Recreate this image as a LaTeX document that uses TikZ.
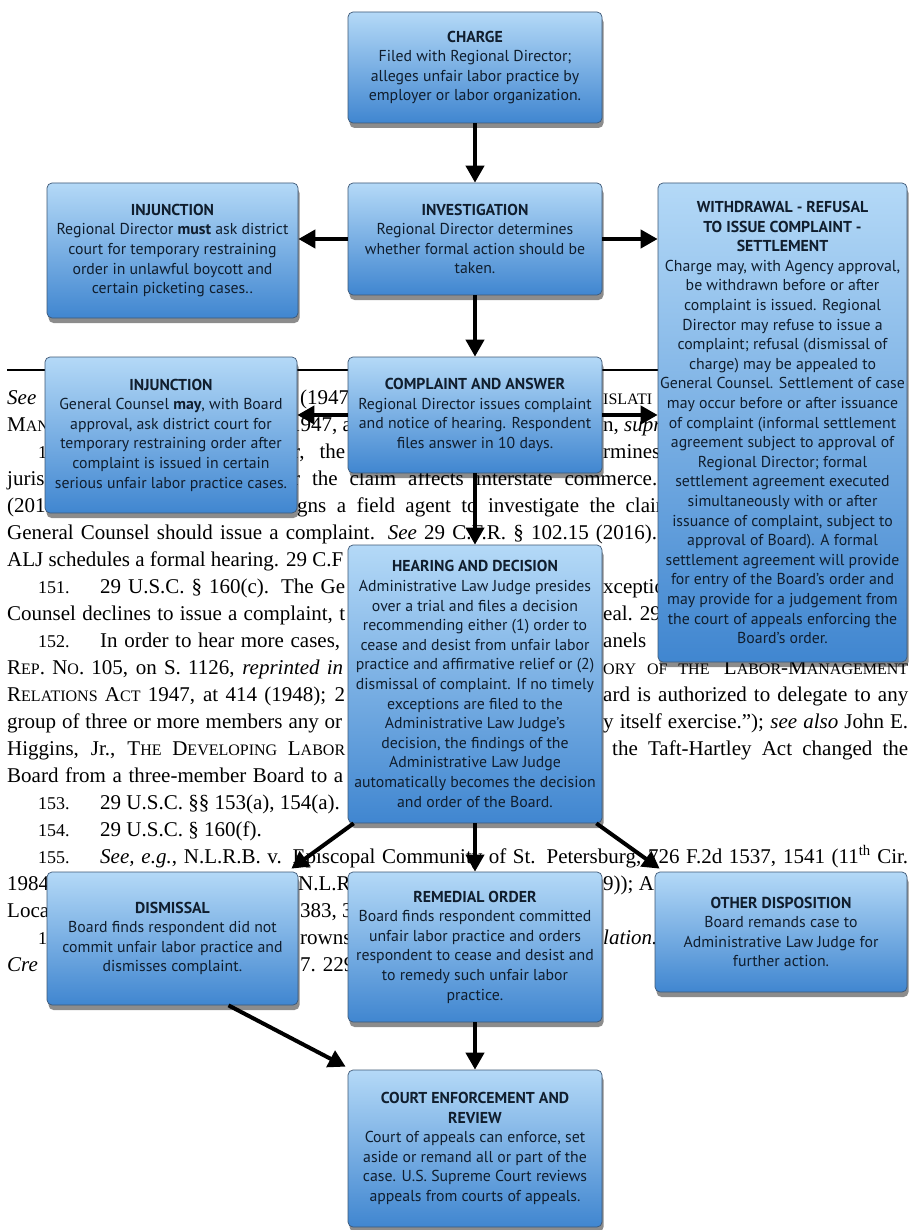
\documentclass[tikz,border=0pt]{standalone}
\usepackage{fontspec}
\setmainfont{Liberation Serif}
\newfontfamily\boxsans{PT Sans}
\usetikzlibrary{arrows.meta,shadows}
\definecolor{boxtop}{RGB}{180,217,247}
\definecolor{boxbot}{RGB}{64,134,208}
\definecolor{boxline}{RGB}{62,88,118}
\definecolor{boxtext}{RGB}{16,30,46}
\newcommand\fakesc[1]{{\fontsize{16}{18}\selectfont #1}}
\newcommand\fnnum[1]{{\fontsize{18}{20}\selectfont #1}}
\begin{document}
\begin{tikzpicture}[x=1pt,y=-1pt,
  flowbox/.style={draw=boxline, line width=0.7pt, rounded corners=5pt,
    top color=boxtop, bottom color=boxbot,
    drop shadow={shadow xshift=1.5pt,shadow yshift=-5pt,opacity=0.45,fill=black},
    align=center, inner sep=1pt, text=boxtext,
    font=\boxsans\fontsize{15.8}{19.6}\selectfont},
  bgtext/.style={anchor=base west, inner sep=0pt, font=\fontsize{21}{25}\selectfont},
  arr/.style={line width=4pt, -{Triangle[length=17pt,width=18pt]}, black}]
\fill[white] (0,0) rectangle (910,1230);
\useasboundingbox (0,0) rectangle (910,1230);

% background page text
\node[bgtext] (l1a) at (7,404) {\textit{See}};
\node[bgtext] (l1b) at (300,404) {(1947};
\node[bgtext] (l1c) at (603,404) {\fakesc{ISLATI}};
\node[bgtext] (l2a) at (7,431) {M\fakesc{AN}};
\node[bgtext] (l2b) at (290,431) {1947, a};
\node[bgtext] (l2c) at (603,431) {n, \textit{supr}};
\node[bgtext] (l3a) at (38,458) {\fnnum{1}};
\node[bgtext] (l3b) at (293,458) {\makebox[52pt][s]{r, the}};
\node[bgtext] (l3c) at (603,458) {rmines};
\node[bgtext] (l4a) at (7,485) {juris};
\node[bgtext] (l4b) at (293,485) {\makebox[364pt][s]{r the claim affects interstate commerce.}};
\node[bgtext] (l5a) at (7,512) {(201};
\node[bgtext] (l5b) at (297,512) {\makebox[375pt][s]{gns a field agent to investigate the claim}};
\node[bgtext] (l6) at (7,539) {\makebox[650pt][s]{General Counsel should issue a complaint. \textit{See} 29 C.F.R. § 102.15 (2016).}};
\node[bgtext] (l7) at (7,566) {\makebox[336pt][s]{ALJ schedules a formal hearing. 29 C.F}};
\node[bgtext] (l8a) at (38,593) {\fnnum{151.}};
\node[bgtext] (l8b) at (100,593) {\makebox[245pt][s]{29 U.S.C. § 160(c). The Ge}};
\node[bgtext] (l8c) at (603,593) {xceptio};
\node[bgtext] (l9a) at (7,620) {\makebox[338pt][s]{Counsel declines to issue a complaint, t}};
\node[bgtext] (l9b) at (603,620) {eal. 29};
\node[bgtext] (l10a) at (38,647) {\fnnum{152.}};
\node[bgtext] (l10b) at (100,647) {\makebox[240pt][s]{In order to hear more cases,}};
\node[bgtext] (l10c) at (603,647) {anels};
\node[bgtext] (l11a) at (7,674) {\makebox[336pt][s]{R\fakesc{EP}. N\fakesc{O}. 105, on S. 1126, \textit{reprinted in}}};
\node[bgtext] (l11b) at (603,674) {\makebox[305pt][s]{\fakesc{ORY OF THE} L\fakesc{ABOR}-M\fakesc{ANAGEMENT}}};
\node[bgtext] (l12a) at (7,701) {\makebox[338pt][s]{R\fakesc{ELATIONS} A\fakesc{CT} 1947, at 414 (1948); 2}};
\node[bgtext] (l12b) at (603,701) {\makebox[305pt][s]{ard is authorized to delegate to any}};
\node[bgtext] (l13a) at (7,728) {\makebox[335pt][s]{group of three or more members any or}};
\node[bgtext] (l13b) at (603,728) {\makebox[305pt][s]{y itself exercise.”); \textit{see also} John E.}};
\node[bgtext] (l14a) at (7,755) {\makebox[338pt][s]{Higgins, Jr., T\fakesc{HE} D\fakesc{EVELOPING} L\fakesc{ABOR}}};
\node[bgtext] (l14b) at (612,755) {\makebox[296pt][s]{the Taft-Hartley Act changed the}};
\node[bgtext] (l15) at (7,782) {\makebox[336pt][s]{Board from a three-member Board to a}};
\node[bgtext] (l16a) at (38,809) {\fnnum{153.}};
\node[bgtext] (l16b) at (100,809) {29 U.S.C. §§ 153(a), 154(a).};
\node[bgtext] (l17a) at (38,836) {\fnnum{154.}};
\node[bgtext] (l17b) at (100,836) {29 U.S.C. § 160(f).};
\node[bgtext] (l18a) at (38,863) {\fnnum{155.}};
\node[bgtext] (l18b) at (100,863) {\makebox[808pt][s]{\textit{See, e.g.}, N.L.R.B. v. Episcopal Community of St. Petersburg, 726 F.2d 1537, 1541 (11\textsuperscript{th} Cir.}};
\node[bgtext] (l19a) at (7,890) {1984};
\node[bgtext] (l19b) at (298,890) {N.L.R};
\node[bgtext] (l19c) at (603,890) {9)); A};
\node[bgtext] (l20a) at (7,917) {Loca};
\node[bgtext] (l20b) at (300,917) {383, 3};
\node[bgtext] (l21a) at (38,944) {\fnnum{1}};
\node[bgtext] (l21b) at (300,944) {rowns};
\node[bgtext] (l21c) at (603,944) {\textit{lation.}};
\node[bgtext] (l22a) at (7,971) {\textit{Cre}};
\node[bgtext] (l22b) at (300,971) {7. 229,};
\draw[line width=1.2pt] (7,370) -- (660,370);

% flowchart boxes
\node[flowbox, minimum width=254pt, minimum height=111pt] (charge) at (475,67.5)
  {\textbf{CHARGE}\\Filed with Regional Director;\\alleges unfair labor practice by\\employer or labor organization.};
\node[flowbox, minimum width=251pt, minimum height=135pt] (inj1) at (172.5,250.5)
  {\textbf{INJUNCTION}\\Regional Director \textbf{must} ask district\\court for temporary restraining\\order in unlawful boycott and\\certain picketing cases..};
\node[flowbox, minimum width=254pt, minimum height=112pt] (inv) at (475,239)
  {\textbf{INVESTIGATION}\\Regional Director determines\\whether formal action should be\\taken.};
\node[flowbox, minimum width=249pt, minimum height=479pt] (with) at (782.5,422.5)
  {\textbf{WITHDRAWAL - REFUSAL}\\\textbf{TO ISSUE COMPLAINT -}\\\textbf{SETTLEMENT}\\
   Charge may, with Agency approval,\\be withdrawn before or after\\complaint is issued. Regional\\Director may refuse to issue a\\complaint; refusal (dismissal of\\charge) may be appealed to\\General Counsel. Settlement of case\\may occur before or after issuance\\of complaint (informal settlement\\agreement subject to approval of\\Regional Director; formal\\settlement agreement executed\\simultaneously with or after\\issuance of complaint, subject to\\approval of Board). A formal\\settlement agreement will provide\\for entry of the Board’s order and\\may provide for a judgement from\\the court of appeals enforcing the\\Board’s order.};
\node[flowbox, minimum width=252pt, minimum height=156pt] (inj2) at (171,435)
  {\textbf{INJUNCTION}\\General Counsel \textbf{may}, with Board\\approval, ask district court for\\temporary restraining order after\\complaint is issued in certain\\serious unfair labor practice cases.};
\node[flowbox, minimum width=254pt, minimum height=116pt] (comp) at (475,415)
  {\textbf{COMPLAINT AND ANSWER}\\Regional Director issues complaint\\and notice of hearing. Respondent\\files answer in 10 days.};
\node[flowbox, minimum width=254pt, minimum height=278pt] (hear) at (475,684)
  {\textbf{HEARING AND DECISION}\\Administrative Law Judge presides\\over a trial and files a decision\\recommending either (1) order to\\cease and desist from unfair labor\\practice and affirmative relief or (2)\\dismissal of complaint. If no timely\\exceptions are filed to the\\Administrative Law Judge’s\\decision, the findings of the\\Administrative Law Judge\\automatically becomes the decision\\and order of the Board.};
\node[flowbox, minimum width=251pt, minimum height=133pt] (dism) at (172.5,938.5)
  {\textbf{DISMISSAL}\\Board finds respondent did not\\commit unfair labor practice and\\dismisses complaint.};
\node[flowbox, minimum width=254pt, minimum height=150pt] (rem) at (475,947)
  {\textbf{REMEDIAL ORDER}\\Board finds respondent committed\\unfair labor practice and orders\\respondent to cease and desist and\\to remedy such unfair labor\\practice.};
\node[flowbox, minimum width=252pt, minimum height=120pt] (other) at (781,932)
  {\textbf{OTHER DISPOSITION}\\Board remands case to\\Administrative Law Judge for\\further action.};
\node[flowbox, minimum width=254pt, minimum height=157pt] (court) at (475,1148.5)
  {\textbf{COURT ENFORCEMENT AND}\\\textbf{REVIEW}\\Court of appeals can enforce, set\\aside or remand all or part of the\\case. U.S. Supreme Court reviews\\appeals from courts of appeals.};

% connectors
\draw[arr] (charge.south) -- (inv.north);
\draw[arr] (inv.west) -- (inv.west -| inj1.east);
\draw[arr] (inv.east) -- (inv.east -| with.west);
\draw[arr] (inv.south) -- (comp.north);
\draw[arr] (comp.west) -- (comp.west -| inj2.east);
\draw[arr] (comp.east) -- (comp.east -| with.west);
\draw[arr] (comp.south) -- (hear.north);
\draw[arr] ([xshift=6pt]hear.south west) -- ([xshift=-7pt,yshift=3pt]dism.north east);
\draw[arr] (hear.south) -- (rem.north);
\draw[arr] ([xshift=-6pt]hear.south east) -- ([xshift=5pt,yshift=3pt]other.north west);
\draw[arr] ([xshift=56pt]dism.south) -- ([xshift=-2pt,yshift=3pt]court.north west);
\draw[arr] (rem.south) -- (court.north);
\end{tikzpicture}
\end{document}
